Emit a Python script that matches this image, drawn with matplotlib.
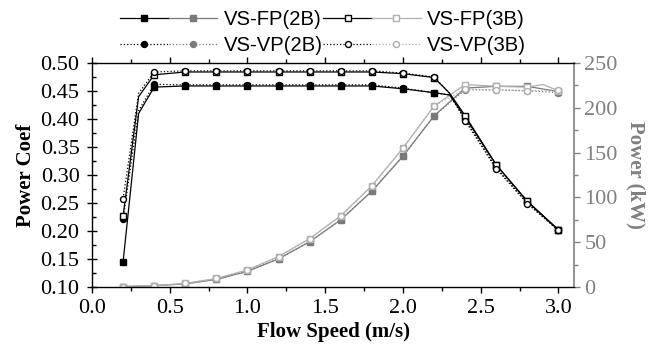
import matplotlib
matplotlib.use("Agg")
import matplotlib.pyplot as plt
from matplotlib.legend_handler import HandlerTuple
from matplotlib.ticker import MultipleLocator, FormatStrFormatter

# ---- data ----
flow_speed = [0.2, 0.4, 0.6, 0.8, 1.0, 1.2, 1.4, 1.6, 1.8, 2.0, 2.2, 2.4, 2.6, 2.8, 3.0]
cp_speed = [0.2, 0.3, 0.4, 0.6, 0.8, 1.0, 1.2, 1.4, 1.6, 1.8, 2.0, 2.2, 2.3, 2.4, 2.6, 2.8, 3.0]

cp_fp_2b = [0.145, 0.410, 0.457, 0.459, 0.459, 0.459, 0.459, 0.459, 0.459, 0.459, 0.454, 0.447, 0.443, 0.403, 0.318, 0.253, 0.202]
cp_vp_2b = [0.221, 0.415, 0.462, 0.461, 0.461, 0.461, 0.461, 0.461, 0.461, 0.461, 0.455, 0.447, 0.443, 0.399, 0.313, 0.250, 0.201]
cp_fp_3b = [0.227, 0.440, 0.479, 0.484, 0.484, 0.484, 0.484, 0.484, 0.484, 0.484, 0.481, 0.474, 0.446, 0.406, 0.318, 0.253, 0.202]
cp_vp_3b = [0.258, 0.446, 0.484, 0.486, 0.486, 0.486, 0.486, 0.486, 0.486, 0.486, 0.482, 0.475, 0.446, 0.397, 0.311, 0.249, 0.201]

p_fp_2b = [0.5, 1.5, 3.5, 8.5, 17.5, 31.5, 50.5, 75.0, 107.0, 146.0, 191.0, 222.0, 224.0, 224.0, 218.0]
p_vp_2b = [0.5, 1.5, 3.5, 8.5, 17.5, 31.5, 50.5, 75.0, 107.0, 146.0, 191.0, 220.0, 220.0, 219.0, 217.0]
p_fp_3b_speed = [0.2, 0.4, 0.6, 0.8, 1.0, 1.2, 1.4, 1.6, 1.8, 2.0, 2.2, 2.4, 2.6, 2.8, 2.9, 3.0]
p_fp_3b = [0.5, 1.5, 4.0, 9.5, 19.0, 34.0, 54.0, 79.5, 113.0, 155.0, 202.0, 226.0, 224.0, 223.0, 226.0, 219.0]
p_vp_3b = [0.5, 1.5, 4.0, 9.5, 19.0, 34.0, 54.0, 79.5, 113.0, 155.0, 202.0, 221.0, 220.0, 219.0, 220.0]

labels = ["VS-FP(2B)", "VS-VP(2B)", "VS-FP(3B)", "VS-VP(3B)"]

# ---- styles ----
BLACK = "black"
GRAY2 = "#7a7a7a"
GRAY3 = "#b0b0b0"
AXGRAY = "#808080"
serif = ["Liberation Serif", "DejaVu Serif"]

def marks(xs, base):
    return [i for i, v in enumerate(xs) if any(abs(v - b) < 1e-9 for b in base)]

fig = plt.figure(figsize=(6.59, 3.47), dpi=100)
ax = fig.add_axes([92 / 659, 0.1729, 574 / 659 - 92 / 659, 0.8184 - 0.1729])
ax2 = ax.twinx()

lw = 0.9
ms = 4.3
cp_me = marks(cp_speed, flow_speed)

# power curves (right axis)
h_p_fp2, = ax2.plot(flow_speed, p_fp_2b, "-", color=GRAY2, lw=lw, marker="s", ms=ms, mfc=GRAY2, mec=GRAY2)
h_p_vp2, = ax2.plot(flow_speed, p_vp_2b, ":", color=GRAY2, lw=lw, marker="o", ms=ms, mfc=GRAY2, mec=GRAY2)
h_p_fp3, = ax2.plot(p_fp_3b_speed, p_fp_3b, "-", color=GRAY3, lw=lw, marker="s", ms=ms, mfc="white", mec=GRAY3,
                    markevery=marks(p_fp_3b_speed, flow_speed))
h_p_vp3, = ax2.plot(flow_speed, p_vp_3b, ":", color=GRAY3, lw=lw, marker="o", ms=ms, mfc="white", mec=GRAY3)

# power coefficient curves (left axis)
h_c_fp2, = ax.plot(cp_speed, cp_fp_2b, "-", color=BLACK, lw=lw, marker="s", ms=ms, mfc=BLACK, mec=BLACK, markevery=cp_me)
h_c_vp2, = ax.plot(cp_speed, cp_vp_2b, ":", color=BLACK, lw=lw, marker="o", ms=ms, mfc=BLACK, mec=BLACK, markevery=cp_me)
h_c_fp3, = ax.plot(cp_speed, cp_fp_3b, "-", color=BLACK, lw=lw, marker="s", ms=ms, mfc="white", mec=BLACK, markevery=cp_me)
h_c_vp3, = ax.plot(cp_speed, cp_vp_3b, ":", color=BLACK, lw=lw, marker="o", ms=ms, mfc="white", mec=BLACK, markevery=cp_me)

ax.set_zorder(ax2.get_zorder() + 1)
ax.patch.set_visible(False)

# axes limits and ticks
ax.set_xlim(0, 3.1)
ax.set_ylim(0.10, 0.50)
ax2.set_ylim(0, 250)
ax.xaxis.set_major_locator(MultipleLocator(0.5))
ax.xaxis.set_minor_locator(MultipleLocator(0.25))
ax.yaxis.set_major_locator(MultipleLocator(0.05))
ax.yaxis.set_minor_locator(MultipleLocator(0.025))
ax2.yaxis.set_major_locator(MultipleLocator(50))
ax2.yaxis.set_minor_locator(MultipleLocator(25))

ax.tick_params(axis="x", which="major", direction="out", length=4, width=1, top=True, labelsize=16, pad=4.5)
ax.tick_params(axis="x", which="minor", direction="out", length=3, width=1, top=True)
ax.tick_params(axis="y", which="major", direction="inout", length=7, width=1, labelsize=16, pad=5.5)
ax.tick_params(axis="y", which="minor", direction="in", length=3, width=1)
ax2.tick_params(axis="y", which="major", direction="out", length=4, width=1, colors=AXGRAY, labelsize=16)
ax2.tick_params(axis="y", which="minor", direction="out", length=3, width=1, colors=AXGRAY)
for lab in ax.get_xticklabels() + ax.get_yticklabels() + ax2.get_yticklabels():
    lab.set_fontfamily(serif)
ax.xaxis.set_major_formatter(FormatStrFormatter("%.1f"))
ax.yaxis.set_major_formatter(FormatStrFormatter("%.2f"))

for s in ["left", "bottom", "top"]:
    ax.spines[s].set_linewidth(1.0)
ax2.spines["right"].set_color(AXGRAY)
ax2.spines["right"].set_linewidth(1.2)
ax.spines["right"].set_visible(False)
ax2.spines["left"].set_visible(False)
ax2.spines["top"].set_visible(False)
ax2.spines["bottom"].set_visible(False)

ax.set_xlabel("Flow Speed (m/s)", fontsize=15, fontweight="bold", family=serif, labelpad=3)
ax.set_ylabel("Power Coef", fontsize=15, fontweight="bold", family=serif, labelpad=3)
ax2.set_ylabel("Power (kW)", fontsize=15, fontweight="bold", family=serif, color=AXGRAY,
               rotation=270, labelpad=20)

handles = [(h_c_fp2, h_p_fp2), (h_c_vp2, h_p_vp2), (h_c_fp3, h_p_fp3), (h_c_vp3, h_p_vp3)]
leg = fig.legend(handles, labels, ncol=2, loc="upper left", bbox_to_anchor=(120 / 659, 0.972),
                 frameon=False, borderpad=0, borderaxespad=0,
                 handler_map={tuple: HandlerTuple(ndivide=None, pad=0)},
                 handlelength=4.8, handletextpad=0.3, columnspacing=0.05, labelspacing=0.35,
                 prop={"family": ["Liberation Sans", "DejaVu Sans"], "size": 14.6})

fig.savefig("out.png", dpi=100)
